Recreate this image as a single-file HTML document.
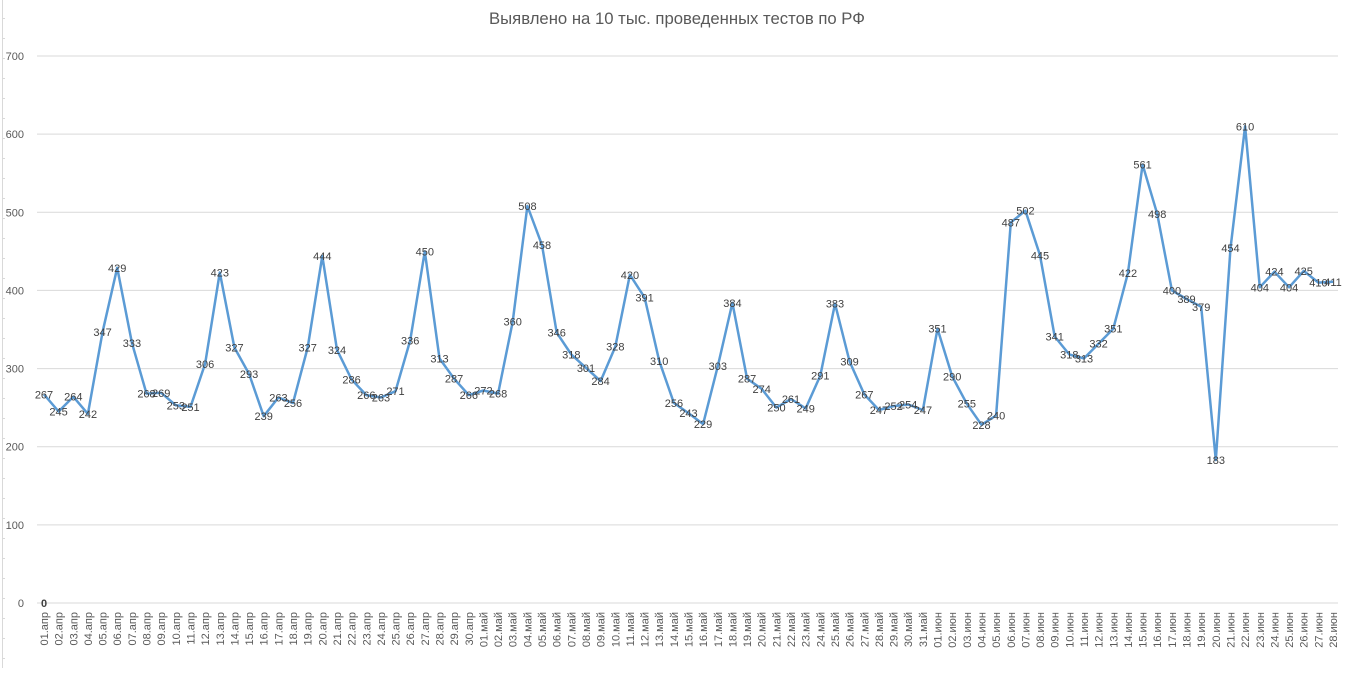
<!DOCTYPE html>
<html><head><meta charset="utf-8"><style>
body{margin:0;background:#fff;width:1353px;height:668px;overflow:hidden}
svg{font-family:"Liberation Sans","DejaVu Sans",sans-serif}
</style></head><body>
<svg id="c" width="1353" height="668" xmlns="http://www.w3.org/2000/svg"></svg>
<script>
const d=[267,245,264,242,347,429,333,268,269,253,251,306,423,327,293,239,263,256,327,444,324,286,266,263,271,336,450,313,287,266,
272,268,360,508,458,346,318,301,284,328,420,391,310,256,243,229,303,384,287,274,250,261,249,291,383,309,267,247,252,254,247,
351,290,255,228,240,487,502,445,341,318,313,332,351,422,561,498,400,389,379,183,454,610,404,424,404,425,410,411];
const y0=603,k=547/700,x0=44,dx=(1333-44)/88;
let s='<text x="677" y="24" text-anchor="middle" font-size="16.7" fill="#595959">Выявлено на 10 тыс. проведенных тестов по РФ</text>';
s+='<line x1="2.5" y1="0" x2="2.5" y2="668" stroke="#d9d9d9"/>';
for(let y=18;y<668;y+=20)s+=`<line x1="2" y1="${y+.5}" x2="5" y2="${y+.5}" stroke="#d9d9d9"/>`;
for(let i=0;i<=7;i++){const y=y0-i*100*k;
s+=`<line x1="37" y1="${y}" x2="1338" y2="${y}" stroke="#d9d9d9" stroke-width="1"/>`;
s+=`<text x="24" y="${y+4}" text-anchor="end" font-size="11" fill="#595959">${i*100}</text>`;}
const names=[];
for(let i=1;i<=30;i++)names.push(String(i).padStart(2,'0')+'.апр');
for(let i=1;i<=31;i++)names.push(String(i).padStart(2,'0')+'.май');
for(let i=1;i<=28;i++)names.push(String(i).padStart(2,'0')+'.июн');
let p=[];
d.forEach((v,i)=>{const x=x0+i*dx,y=y0-v*k;p.push(x.toFixed(1)+','+y.toFixed(1));
s+=`<text transform="translate(${(x+4).toFixed(1)},612) rotate(-90)" text-anchor="end" font-size="11" fill="#595959">${names[i]}</text>`;});
s+=`<polyline points="${p.join(' ')}" fill="none" stroke="#5b9bd5" stroke-width="2.5" stroke-linejoin="round"/>`;
d.forEach((v,i)=>{const x=x0+i*dx,y=y0-v*k;
s+=`<text x="${x.toFixed(1)}" y="${(y+4).toFixed(1)}" text-anchor="middle" font-size="11" fill="#404040">${v}</text>`;});
s+=`<text x="${x0}" y="607" text-anchor="middle" font-size="11" font-weight="bold" fill="#404040">0</text>`;
document.getElementById('c').innerHTML=s;
</script>
</body></html>
